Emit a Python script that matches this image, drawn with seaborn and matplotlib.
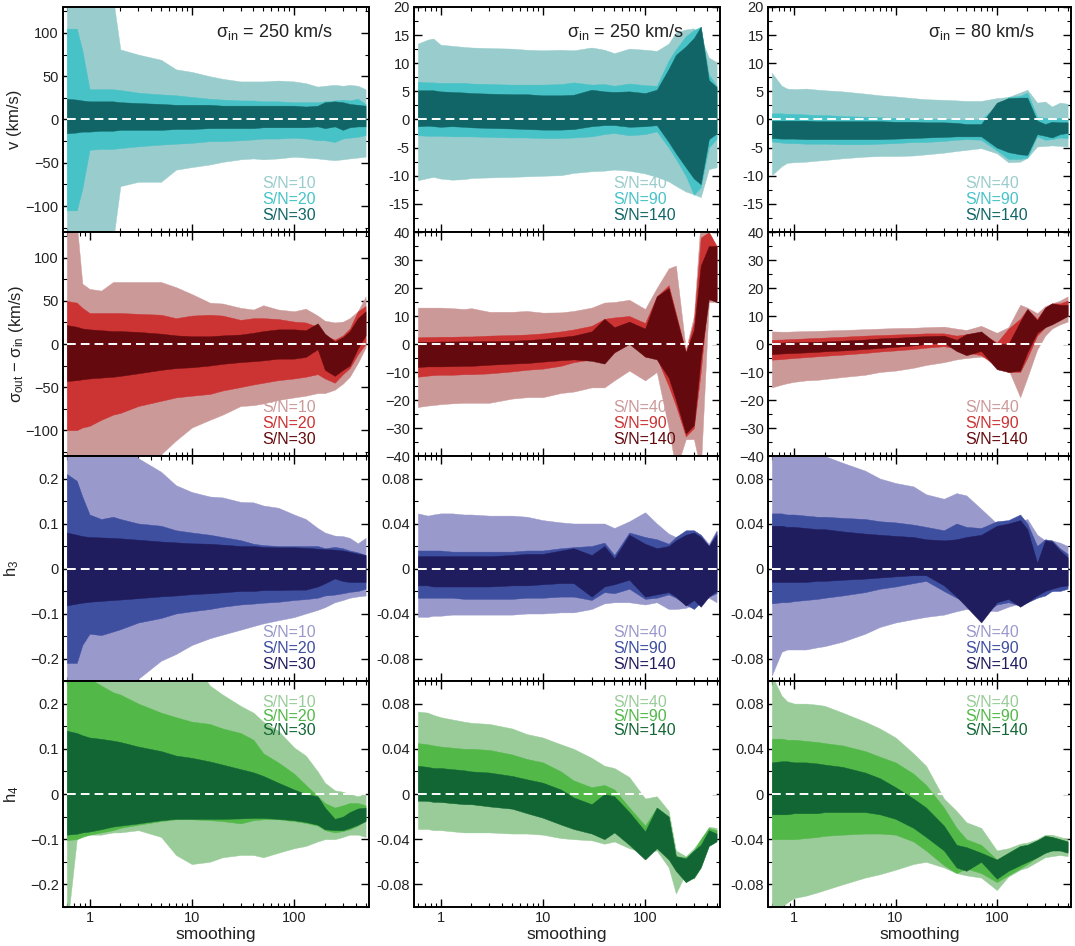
import matplotlib
matplotlib.use("Agg")
import matplotlib.pyplot as plt
import seaborn as sns
from matplotlib.ticker import FixedLocator, MultipleLocator, LogLocator, NullFormatter, FuncFormatter

# ---------------- data ----------------
SMOOTH = [0.6, 0.75, 0.85, 1, 1.3, 1.7, 2, 3, 5, 7, 10, 15, 20, 30, 40, 50, 70,
          100, 130, 170, 200, 250, 300, 350, 420, 500]

SN_LEFT = ["S/N=10", "S/N=20", "S/N=30"]
SN_RIGHT = ["S/N=40", "S/N=90", "S/N=140"]
TITLES = ["σ$_{\\rm in}$ = 250 km/s", "σ$_{\\rm in}$ = 250 km/s", "σ$_{\\rm in}$ = 80 km/s"]
YLABELS = ["v (km/s)", "σ$_{\\rm out}$ − σ$_{\\rm in}$ (km/s)", "h$_3$", "h$_4$"]

# row 1 : v
v_a_hi1 = [140, 140, 140, 140, 140, 140, 81, 75, 69, 58, 55, 50, 47, 44, 44, 44, 45, 44, 42, 38, 39, 40, 39, 40, 39, 35]
v_a_lo1 = [-140, -140, -140, -140, -140, -140, -77, -72, -72, -58, -55, -52, -49, -46, -45, -46, -45, -43, -44, -45, -46, -47, -46, -45, -44, -43]
v_a_hi2 = [105, 105, 80, 35, 35, 35, 34, 31, 29, 28, 26, 24, 23, 22, 22, 21, 21, 20, 20, 20, 21, 22, 23, 22, 24, 18]
v_a_lo2 = [-105, -105, -80, -35, -34, -34, -33, -31, -29, -28, -27, -25, -25, -24, -23, -22, -22, -21, -22, -24, -24, -26, -22, -21, -20, -18]
v_a_hi3 = [24, 23, 22, 21, 21, 21, 20, 19, 18, 17, 17, 17, 16, 16, 16, 16, 16, 16, 15, 16, 20, 21, 20, 18, 17, 16]
v_a_lo3 = [-16, -15, -14, -14, -13, -13, -12, -12, -12, -11, -11, -10, -10, -10, -10, -9, -9, -9, -9, -8, -10, -8, -12, -9, -8, -8]

v_b_hi1 = [13.5, 14.2, 14.4, 13.3, 13.1, 12.9, 12.8, 12.7, 12.6, 12.4, 12.3, 12.4, 12.3, 12.8, 12.4, 11.8, 12.6, 12.4, 12.2, 13.5, 15.5, 16.0, 16.2, 14.5, 11.0, 10.2]
v_b_lo1 = [-10.8, -10.4, -10.2, -10.5, -10.7, -10.6, -10.4, -10.3, -10.2, -10.1, -10.0, -9.9, -9.5, -9.2, -9.1, -8.9, -9.1, -9.6, -10.2, -11.0, -11.8, -12.8, -13.3, -13.8, -8.8, -8.5]
v_b_hi2 = [6.7, 6.6, 6.6, 6.5, 6.5, 6.5, 6.4, 6.3, 6.2, 6.2, 6.2, 6.3, 6.6, 6.2, 6.3, 6.0, 6.4, 6.1, 6.0, 10.5, 12.5, 14.8, 15.9, 16.5, 8.0, 6.0]
v_b_lo2 = [-2.8, -2.9, -2.9, -2.9, -3.0, -3.0, -3.0, -3.1, -3.2, -3.2, -3.3, -3.3, -3.2, -3.0, -2.6, -2.4, -2.8, -2.6, -2.1, -5.0, -7.0, -10.0, -13.4, -12.0, -5.0, -3.4]
v_b_hi3 = [5.2, 5.2, 5.2, 5.0, 4.9, 4.8, 4.7, 4.6, 4.5, 4.5, 4.3, 4.3, 4.4, 5.3, 5.0, 4.9, 5.0, 4.7, 5.3, 9.0, 11.5, 13.0, 14.5, 16.5, 7.0, 5.8]
v_b_lo3 = [-1.2, -1.1, -1.2, -1.3, -1.2, -1.3, -1.4, -1.5, -1.6, -1.7, -1.8, -1.8, -1.7, -1.2, -1.0, -1.0, -1.3, -1.2, -1.0, -4.0, -6.0, -8.5, -10.5, -11.5, -3.5, -2.5]

v_c_hi1 = [8.3, 6.0, 5.5, 5.4, 5.5, 5.3, 5.2, 5.0, 4.6, 4.3, 4.1, 3.8, 3.6, 3.5, 3.4, 3.3, 3.3, 3.8, 4.0, 4.8, 5.3, 3.0, 3.2, 2.3, 3.0, 2.8]
v_c_lo1 = [-9.9, -8.3, -7.7, -7.6, -7.5, -7.3, -7.2, -6.9, -6.6, -6.5, -6.5, -6.4, -6.2, -5.9, -5.6, -5.4, -5.1, -6.0, -7.6, -7.5, -6.8, -4.8, -4.7, -4.6, -4.7, -4.8]
v_c_hi2 = [1.1, 1.1, 1.0, 1.0, 0.9, 0.8, 0.8, 0.6, 0.5, 0.4, 0.3, 0.2, 0.1, 0.1, 0.0, 0.0, 0.0, 2.5, 4.0, 4.2, 4.8, 0.5, 0.3, 0.2, 0.3, 0.3]
v_c_lo2 = [-3.9, -4.1, -4.2, -4.2, -4.3, -4.3, -4.3, -4.4, -4.4, -4.3, -4.2, -4.0, -4.0, -3.8, -3.6, -3.5, -3.6, -5.5, -7.0, -7.0, -6.8, -3.0, -3.6, -3.5, -3.2, -3.3]
v_c_hi3 = [-0.2, -0.2, -0.2, -0.2, -0.2, -0.3, -0.3, -0.3, -0.3, -0.3, -0.4, -0.4, -0.5, -0.5, -0.6, -0.8, -0.8, 3.0, 3.8, 3.9, 3.9, -0.2, -0.8, -0.4, -0.5, -0.5]
v_c_lo3 = [-3.3, -3.4, -3.4, -3.4, -3.5, -3.5, -3.5, -3.5, -3.5, -3.5, -3.4, -3.3, -3.2, -3.1, -3.0, -3.0, -3.0, -5.0, -5.8, -6.2, -6.3, -2.6, -2.9, -3.2, -2.6, -2.4]

# row 2 : sigma_out - sigma_in
s_a_hi1 = [140, 140, 70, 64, 62, 72, 72, 72, 72, 66, 58, 48, 47, 42, 40, 45, 40, 38, 41, 33, 27, 25, 26, 30, 38, 55]
s_a_lo1 = [-140, -140, -140, -140, -140, -140, -140, -140, -128, -112, -97, -88, -82, -72, -71, -69, -65, -62, -60, -57, -57, -53, -46, -38, -22, -4]
s_a_hi2 = [50, 48, 42, 36, 36, 36, 36, 35, 34, 30, 33, 34, 33, 28, 30, 30, 29, 26, 25, 20, 10, 5, 10, 18, 38, 44]
s_a_lo2 = [-100, -100, -97, -95, -88, -82, -80, -72, -66, -62, -60, -58, -54, -50, -47, -45, -42, -40, -38, -35, -40, -45, -35, -28, -12, 0]
s_a_hi3 = [22, 20, 18, 17, 16, 15, 15, 14, 12, 10, 9, 9, 10, 11, 13, 15, 17, 17, 16, 24, 12, 3, 8, 15, 30, 38]
s_a_lo3 = [-43, -42, -41, -40, -39, -38, -37, -34, -30, -28, -27, -25, -23, -21, -20, -19, -17, -17, -15, -6, -30, -37, -30, -25, -5, 10]

s_b_hi1 = [13, 13, 13, 13, 12.8, 12.5, 12.8, 11.5, 11.5, 11.8, 11.2, 11.3, 11.8, 13.0, 14.8, 15.0, 15.8, 12.5, 20, 27, 28, -2, 10, 45, 40, 35]
s_b_lo1 = [-22.5, -22, -21.8, -21.5, -21.2, -21, -21, -21, -19.5, -19, -19, -17.5, -17, -15.5, -15.5, -13, -9.5, -13, -10, -30, -45, -34, -34, -45, 15, 15]
s_b_hi2 = [2.4, 2.5, 2.5, 2.6, 2.6, 2.7, 2.7, 3.0, 3.2, 3.4, 3.8, 4.5, 5.2, 6.5, 9.0, 9.5, 10.0, 7.5, 17, 21, 11, -3, 8, 38, 40, 35]
s_b_lo2 = [-11.7, -11.3, -11.1, -11, -11, -10.8, -10.8, -10.5, -9.8, -9.2, -8.8, -7.8, -6.5, -5.5, -5, -2, 0.8, -4.5, -5, -15, -22, -33, -30, -10, 20, 16]
s_b_hi3 = [0.8, 0.8, 0.8, 0.9, 0.9, 1.0, 1.0, 1.0, 1.2, 1.4, 1.8, 2.5, 3, 4.5, 9, 6, 8, 5.5, 17, 20, 10, -3, 5, 28, 35, 35]
s_b_lo3 = [-8.2, -8.0, -8.0, -8.0, -7.9, -7.8, -7.8, -7.4, -7.0, -6.8, -6.3, -5.8, -5.5, -6.0, -7, -3, 0, -4.5, -5.5, -12, -20, -32, -29, -5, 16, 15]

s_c_hi1 = [4.5, 4.4, 4.4, 4.5, 4.6, 4.7, 4.8, 5.0, 5.3, 5.5, 5.7, 5.8, 6, 6.2, 5.5, 5, 6.5, 4, 6, 14, 13, 11, 13.5, 14.5, 15.5, 17]
s_c_lo1 = [-15.5, -14.5, -14, -13.5, -13, -12.8, -12.5, -11.8, -11, -10, -9.5, -8.5, -7.5, -6.5, -5.5, -5, -4.5, -5.5, -9, -19, -12, -2, 3, 5.5, 7, 8]
s_c_hi2 = [1.5, 1.6, 1.7, 1.8, 2.0, 2.2, 2.3, 2.6, 3.0, 3.2, 3.4, 3.6, 3.8, 3.8, 3.0, 3.5, 4.0, 0.5, 5.5, 9, 12.5, 9, 13, 14.5, 14.5, 15.5]
s_c_lo2 = [-5.6, -5.4, -5.2, -5.0, -4.7, -4.4, -4.2, -3.8, -3.2, -2.7, -2.3, -1.8, -1.3, -0.8, -1.5, -3, -4, -8, -10, -10, -5, 3, 6, 8, 9, 10]
s_c_hi3 = [0.5, 0.5, 0.6, 0.6, 0.7, 0.8, 0.9, 1.2, 1.6, 2.0, 2.2, 2.6, 2.8, 3.0, 1.5, 3.5, 4.5, 0, 0, 8, 12.5, 8.5, 13, 14.5, 14, 14]
s_c_lo3 = [-3.6, -3.4, -3.3, -3.2, -3.0, -2.8, -2.6, -2.3, -1.8, -1.4, -1.0, -0.5, 0, 0.5, -2.5, -4, -2.5, -9, -10, -9.5, -3, 4, 6, 7, 8.5, 10]

# row 3 : h3
h3_a_hi1 = [0.3, 0.3, 0.3, 0.3, 0.3, 0.3, 0.3, 0.245, 0.215, 0.185, 0.17, 0.16, 0.158, 0.148, 0.147, 0.14, 0.135, 0.12, 0.11, 0.09, 0.08, 0.073, 0.072, 0.068, 0.056, 0.068]
h3_a_lo1 = [-0.3, -0.3, -0.3, -0.3, -0.3, -0.3, -0.3, -0.245, -0.205, -0.19, -0.17, -0.155, -0.147, -0.136, -0.128, -0.122, -0.115, -0.108, -0.1, -0.092, -0.086, -0.075, -0.07, -0.065, -0.062, -0.06]
h3_a_hi2 = [0.21, 0.195, 0.16, 0.12, 0.11, 0.115, 0.11, 0.1, 0.095, 0.085, 0.08, 0.075, 0.07, 0.063, 0.055, 0.052, 0.05, 0.05, 0.05, 0.05, 0.045, 0.048, 0.045, 0.04, 0.036, 0.03]
h3_a_lo2 = [-0.21, -0.21, -0.17, -0.145, -0.148, -0.14, -0.135, -0.12, -0.11, -0.1, -0.095, -0.09, -0.085, -0.08, -0.078, -0.076, -0.074, -0.07, -0.068, -0.065, -0.06, -0.058, -0.055, -0.052, -0.05, -0.045]
h3_a_hi3 = [0.08, 0.075, 0.072, 0.07, 0.069, 0.068, 0.067, 0.064, 0.06, 0.058, 0.056, 0.055, 0.053, 0.05, 0.05, 0.048, 0.047, 0.047, 0.046, 0.044, 0.043, 0.042, 0.04, 0.037, 0.033, 0.03]
h3_a_lo3 = [-0.082, -0.078, -0.076, -0.074, -0.072, -0.07, -0.069, -0.066, -0.062, -0.06, -0.057, -0.055, -0.053, -0.05, -0.05, -0.048, -0.048, -0.047, -0.047, -0.04, -0.033, -0.022, -0.028, -0.03, -0.03, -0.03]

h3_b_hi1 = [0.049, 0.047, 0.048, 0.049, 0.049, 0.048, 0.048, 0.047, 0.047, 0.046, 0.043, 0.041, 0.04, 0.04, 0.04, 0.036, 0.042, 0.05, 0.04, 0.031, 0.028, 0.032, 0.032, 0.03, 0.022, 0.034]
h3_b_lo1 = [-0.043, -0.043, -0.042, -0.042, -0.041, -0.041, -0.041, -0.041, -0.041, -0.04, -0.04, -0.039, -0.039, -0.036, -0.031, -0.03, -0.03, -0.032, -0.03, -0.036, -0.036, -0.035, -0.032, -0.028, -0.026, -0.03]
h3_b_hi2 = [0.016, 0.016, 0.016, 0.016, 0.015, 0.015, 0.015, 0.015, 0.015, 0.016, 0.016, 0.018, 0.019, 0.02, 0.023, 0.012, 0.032, 0.028, 0.026, 0.022, 0.028, 0.034, 0.034, 0.03, 0.02, 0.033]
h3_b_lo2 = [-0.026, -0.026, -0.026, -0.026, -0.026, -0.027, -0.027, -0.027, -0.027, -0.026, -0.026, -0.025, -0.025, -0.028, -0.021, -0.022, -0.018, -0.027, -0.026, -0.023, -0.026, -0.032, -0.036, -0.03, -0.025, -0.022]
h3_b_hi3 = [0.011, 0.011, 0.011, 0.011, 0.011, 0.011, 0.011, 0.011, 0.012, 0.013, 0.013, 0.016, 0.018, 0.012, 0.02, 0.009, 0.03, 0.022, 0.018, 0.02, 0.025, 0.03, 0.032, 0.028, 0.02, 0.03]
h3_b_lo3 = [-0.015, -0.015, -0.016, -0.016, -0.016, -0.016, -0.016, -0.016, -0.015, -0.015, -0.014, -0.013, -0.013, -0.025, -0.016, -0.014, -0.01, -0.025, -0.023, -0.021, -0.025, -0.033, -0.028, -0.034, -0.025, -0.02]

h3_c_hi1 = [0.11, 0.11, 0.11, 0.11, 0.105, 0.1, 0.1, 0.094, 0.087, 0.08, 0.076, 0.073, 0.066, 0.062, 0.067, 0.065, 0.053, 0.04, 0.04, 0.042, 0.044, 0.03, 0.025, 0.025, 0.023, 0.02]
h3_c_lo1 = [-0.095, -0.074, -0.072, -0.072, -0.072, -0.07, -0.069, -0.065, -0.058, -0.052, -0.048, -0.045, -0.043, -0.041, -0.038, -0.036, -0.037, -0.038, -0.034, -0.031, -0.03, -0.026, -0.022, -0.02, -0.018, -0.016]
h3_c_hi2 = [0.049, 0.049, 0.048, 0.048, 0.047, 0.046, 0.046, 0.045, 0.044, 0.042, 0.041, 0.039, 0.037, 0.034, 0.04, 0.037, 0.036, 0.042, 0.043, 0.048, 0.04, 0.02, 0.026, 0.025, 0.018, 0.013]
h3_c_lo2 = [-0.031, -0.03, -0.03, -0.029, -0.028, -0.027, -0.026, -0.024, -0.021, -0.018, -0.016, -0.013, -0.011, -0.02, -0.026, -0.03, -0.042, -0.032, -0.03, -0.033, -0.03, -0.026, -0.024, -0.02, -0.02, -0.018]
h3_c_hi3 = [0.038, 0.038, 0.037, 0.037, 0.036, 0.035, 0.035, 0.033, 0.031, 0.03, 0.029, 0.028, 0.026, 0.025, 0.026, 0.028, 0.03, 0.038, 0.04, 0.043, 0.035, 0.005, 0.025, 0.024, 0.016, 0.01]
h3_c_lo3 = [-0.012, -0.012, -0.012, -0.012, -0.012, -0.011, -0.011, -0.01, -0.009, -0.008, -0.007, -0.006, -0.006, -0.015, -0.025, -0.034, -0.048, -0.03, -0.027, -0.034, -0.03, -0.024, -0.02, -0.018, -0.016, -0.015]

# row 4 : h4
h4_a_hi1 = [0.3, 0.3, 0.3, 0.3, 0.3, 0.3, 0.3, 0.3, 0.3, 0.3, 0.3, 0.24, 0.22, 0.195, 0.18, 0.16, 0.14, 0.103, 0.085, 0.05, 0.025, 0.008, 0.005, 0.0, -0.005, 0.0]
h4_a_lo1 = [-0.3, -0.1, -0.09, -0.09, -0.09, -0.085, -0.085, -0.08, -0.095, -0.135, -0.155, -0.15, -0.14, -0.135, -0.135, -0.14, -0.13, -0.12, -0.115, -0.105, -0.1, -0.1, -0.095, -0.09, -0.09, -0.095]
h4_a_hi2 = [0.3, 0.3, 0.27, 0.255, 0.24, 0.225, 0.22, 0.2, 0.18, 0.17, 0.16, 0.155, 0.145, 0.135, 0.12, 0.09, 0.07, 0.045, 0.02, -0.005, -0.02, -0.03, -0.025, -0.02, -0.02, -0.025]
h4_a_lo2 = [-0.102, -0.1, -0.095, -0.09, -0.085, -0.08, -0.075, -0.068, -0.06, -0.056, -0.056, -0.058, -0.06, -0.065, -0.058, -0.056, -0.056, -0.06, -0.064, -0.07, -0.08, -0.085, -0.082, -0.078, -0.07, -0.058]
h4_a_hi3 = [0.14, 0.135, 0.13, 0.125, 0.122, 0.118, 0.115, 0.105, 0.095, 0.085, 0.08, 0.072, 0.065, 0.055, 0.048, 0.04, 0.025, 0.01, 0.0, -0.005, -0.03, -0.055, -0.05, -0.04, -0.032, -0.03]
h4_a_lo3 = [-0.09, -0.088, -0.085, -0.083, -0.078, -0.072, -0.07, -0.065, -0.058, -0.055, -0.055, -0.055, -0.055, -0.054, -0.053, -0.053, -0.055, -0.058, -0.062, -0.068, -0.078, -0.08, -0.08, -0.075, -0.068, -0.06]

h4_b_hi1 = [0.073, 0.072, 0.07, 0.068, 0.066, 0.064, 0.063, 0.062, 0.058, 0.053, 0.05, 0.044, 0.04, 0.032, 0.025, 0.023, 0.015, -0.004, -0.002, -0.015, -0.05, -0.055, -0.048, -0.04, -0.029, -0.03]
h4_b_lo1 = [-0.031, -0.031, -0.032, -0.032, -0.033, -0.034, -0.034, -0.034, -0.035, -0.035, -0.036, -0.039, -0.04, -0.041, -0.044, -0.042, -0.048, -0.052, -0.05, -0.065, -0.088, -0.07, -0.075, -0.065, -0.045, -0.035]
h4_b_hi2 = [0.045, 0.044, 0.043, 0.042, 0.041, 0.04, 0.04, 0.039, 0.035, 0.031, 0.028, 0.02, 0.012, 0.006, 0.008, 0.004, -0.012, -0.028, -0.012, -0.02, -0.055, -0.056, -0.05, -0.04, -0.03, -0.032]
h4_b_lo2 = [-0.005, -0.006, -0.006, -0.007, -0.008, -0.008, -0.009, -0.01, -0.012, -0.016, -0.02, -0.026, -0.029, -0.033, -0.036, -0.028, -0.04, -0.055, -0.045, -0.055, -0.066, -0.078, -0.072, -0.06, -0.042, -0.04]
h4_b_hi3 = [0.025, 0.024, 0.023, 0.023, 0.022, 0.021, 0.02, 0.019, 0.016, 0.013, 0.01, 0.004, -0.003, -0.009, 0.0, -0.002, -0.016, -0.033, -0.012, -0.02, -0.055, -0.057, -0.05, -0.045, -0.032, -0.035]
h4_b_lo3 = [-0.006, -0.006, -0.007, -0.007, -0.008, -0.009, -0.009, -0.011, -0.013, -0.017, -0.021, -0.027, -0.031, -0.035, -0.04, -0.034, -0.045, -0.058, -0.048, -0.058, -0.068, -0.078, -0.074, -0.065, -0.046, -0.042]

h4_c_hi1 = [0.105, 0.087, 0.082, 0.08, 0.08, 0.079, 0.078, 0.072, 0.064, 0.058, 0.05, 0.036, 0.025, -0.004, -0.015, -0.025, -0.03, -0.05, -0.048, -0.044, -0.043, -0.04, -0.036, -0.036, -0.038, -0.04]
h4_c_lo1 = [-0.11, -0.1, -0.096, -0.092, -0.09, -0.087, -0.085, -0.08, -0.074, -0.071, -0.067, -0.062, -0.06, -0.065, -0.07, -0.072, -0.074, -0.085, -0.073, -0.067, -0.065, -0.06, -0.056, -0.055, -0.054, -0.055]
h4_c_hi2 = [0.049, 0.049, 0.048, 0.048, 0.047, 0.046, 0.045, 0.043, 0.038, 0.033, 0.028, 0.018, 0.008, -0.012, -0.03, -0.04, -0.045, -0.058, -0.052, -0.046, -0.045, -0.041, -0.037, -0.038, -0.04, -0.042]
h4_c_lo2 = [-0.04, -0.04, -0.04, -0.04, -0.039, -0.038, -0.037, -0.036, -0.035, -0.035, -0.036, -0.042, -0.05, -0.063, -0.07, -0.066, -0.07, -0.078, -0.072, -0.066, -0.062, -0.056, -0.052, -0.05, -0.05, -0.05]
h4_c_hi3 = [0.028, 0.029, 0.029, 0.028, 0.028, 0.027, 0.026, 0.024, 0.019, 0.014, 0.006, -0.004, -0.012, -0.028, -0.045, -0.047, -0.052, -0.058, -0.052, -0.046, -0.045, -0.041, -0.037, -0.038, -0.04, -0.042]
h4_c_lo3 = [-0.018, -0.018, -0.018, -0.017, -0.017, -0.017, -0.016, -0.016, -0.016, -0.018, -0.022, -0.03, -0.038, -0.05, -0.065, -0.068, -0.06, -0.075, -0.068, -0.063, -0.06, -0.056, -0.052, -0.05, -0.05, -0.052]

# ---------------- style ----------------
COLORS = [
    ["#99cccc", "#47c3c8", "#126566"],   # v
    ["#cc9999", "#cc3333", "#640a0e"],   # sigma
    ["#9999cc", "#3f4fa0", "#1f1d5e"],   # h3
    ["#99cc99", "#52b848", "#126634"],   # h4
]

BANDS = [
    [(v_a_lo1, v_a_hi1, v_a_lo2, v_a_hi2, v_a_lo3, v_a_hi3),
     (v_b_lo1, v_b_hi1, v_b_lo2, v_b_hi2, v_b_lo3, v_b_hi3),
     (v_c_lo1, v_c_hi1, v_c_lo2, v_c_hi2, v_c_lo3, v_c_hi3)],
    [(s_a_lo1, s_a_hi1, s_a_lo2, s_a_hi2, s_a_lo3, s_a_hi3),
     (s_b_lo1, s_b_hi1, s_b_lo2, s_b_hi2, s_b_lo3, s_b_hi3),
     (s_c_lo1, s_c_hi1, s_c_lo2, s_c_hi2, s_c_lo3, s_c_hi3)],
    [(h3_a_lo1, h3_a_hi1, h3_a_lo2, h3_a_hi2, h3_a_lo3, h3_a_hi3),
     (h3_b_lo1, h3_b_hi1, h3_b_lo2, h3_b_hi2, h3_b_lo3, h3_b_hi3),
     (h3_c_lo1, h3_c_hi1, h3_c_lo2, h3_c_hi2, h3_c_lo3, h3_c_hi3)],
    [(h4_a_lo1, h4_a_hi1, h4_a_lo2, h4_a_hi2, h4_a_lo3, h4_a_hi3),
     (h4_b_lo1, h4_b_hi1, h4_b_lo2, h4_b_hi2, h4_b_lo3, h4_b_hi3),
     (h4_c_lo1, h4_c_hi1, h4_c_lo2, h4_c_hi2, h4_c_lo3, h4_c_hi3)],
]

sns.set_theme(style="ticks")
plt.rcParams["font.family"] = ["Liberation Sans", "DejaVu Sans"]
plt.rcParams["mathtext.fontset"] = "custom"
plt.rcParams["mathtext.rm"] = "Liberation Sans"
plt.rcParams["mathtext.it"] = "Liberation Sans:italic"
plt.rcParams["mathtext.bf"] = "Liberation Sans:bold"
plt.rcParams["axes.unicode_minus"] = True

TXT = "#222222"

W, H = 1075, 946
fig = plt.figure(figsize=(W / 100, H / 100), dpi=100)
fig.patch.set_facecolor("white")

col_px = [(63, 369), (414, 720), (768, 1071)]
row_px = [(7, 232), (232, 456), (456, 681), (681, 907)]


def make_fmt(minus, dec):
    def f(v, pos):
        if abs(v) < 1e-9:
            return "0"
        s = f"{abs(v):.{dec}f}"
        return minus + s if v < 0 else s
    return FuncFormatter(f)


YCONF = {
    (0, 0): (130, [-100, -50, 0, 50, 100], 25, "\u2212", 0),
    (0, 1): (20, [-15, -10, -5, 0, 5, 10, 15, 20], 2.5, "-", 0),
    (1, 0): (130, [-100, -50, 0, 50, 100], 25, "\u2212", 0),
    (1, 1): (40, [-40, -30, -20, -10, 0, 10, 20, 30, 40], 5, "\u2212", 0),
    (2, 0): (0.25, [-0.2, -0.1, 0, 0.1, 0.2], 0.05, "\u2212", 1),
    (2, 1): (0.1, [-0.08, -0.04, 0, 0.04, 0.08], 0.02, "-", 2),
    (3, 0): (0.25, [-0.2, -0.1, 0, 0.1, 0.2], 0.05, "\u2212", 1),
    (3, 1): (0.1, [-0.08, -0.04, 0, 0.04, 0.08], 0.02, "-", 2),
}

YLAB_X = [-0.134, -0.121, -0.137, -0.137]

for r in range(4):
    for c in range(3):
        x0, x1 = col_px[c]
        y0, y1 = row_px[r]
        ax = fig.add_axes([x0 / W, 1 - y1 / H, (x1 - x0) / W, (y1 - y0) / H])
        ax.set_facecolor("white")
        lo1, hi1, lo2, hi2, lo3, hi3 = BANDS[r][c]
        cols = COLORS[r]
        for (lo, hi, col) in [(lo1, hi1, cols[0]), (lo2, hi2, cols[1]), (lo3, hi3, cols[2])]:
            ax.fill_between(SMOOTH, lo, hi, facecolor=col, edgecolor=col, lw=0.3)
        sns.lineplot(x=[SMOOTH[0], SMOOTH[-1]], y=[0.0, 0.0], ax=ax, color="white",
                     lw=1.4, linestyle=(0, (4.5, 2.6)), legend=False)

        ax.set_xscale("log")
        ax.set_xlim(0.55, 540)
        ax.xaxis.set_major_locator(FixedLocator([1, 10, 100]))
        ax.xaxis.set_minor_locator(LogLocator(base=10, subs=range(2, 10)))
        ax.xaxis.set_minor_formatter(NullFormatter())
        if r == 3:
            ax.xaxis.set_major_formatter(FuncFormatter(lambda v, p: f"{v:g}"))
            ax.set_xlabel("smoothing", fontsize=12.5, color=TXT, labelpad=1)
        else:
            ax.xaxis.set_major_formatter(NullFormatter())
            ax.set_xlabel("")

        lim, ticks, minor, minus, dec = YCONF[(r, 0 if c == 0 else 1)]
        ax.set_ylim(-lim, lim)
        ax.yaxis.set_major_locator(FixedLocator(ticks))
        ax.yaxis.set_minor_locator(MultipleLocator(minor))
        ax.yaxis.set_major_formatter(make_fmt(minus, dec))
        ax.set_ylabel("")

        ax.tick_params(which="both", direction="in", top=True, right=True,
                       labelsize=10.5, labelcolor=TXT, color="black", pad=3)
        ax.tick_params(which="major", length=6, width=1.0)
        ax.tick_params(which="minor", length=3, width=0.8)
        for sp in ax.spines.values():
            sp.set_linewidth(1.4)
            sp.set_color("black")
            sp.set_visible(True)

        if c == 0:
            ax.set_ylabel(YLABELS[r], fontsize=12, color=TXT)
            ax.yaxis.set_label_coords(YLAB_X[r], 0.5)

        if r == 0:
            ax.text(0.88, 0.889, TITLES[c], transform=ax.transAxes, ha="right",
                    va="center", fontsize=13, color=TXT)

        labels = SN_LEFT if c == 0 else SN_RIGHT
        ys = [0.907, 0.845, 0.783] if r == 3 else [0.216, 0.144, 0.074]
        for lab, yy, col in zip(labels, ys, cols):
            ax.text(0.65, yy, lab, transform=ax.transAxes, ha="left", va="center",
                    fontsize=11.5, color=col)

fig.savefig("out.png", dpi=100, facecolor="white")
